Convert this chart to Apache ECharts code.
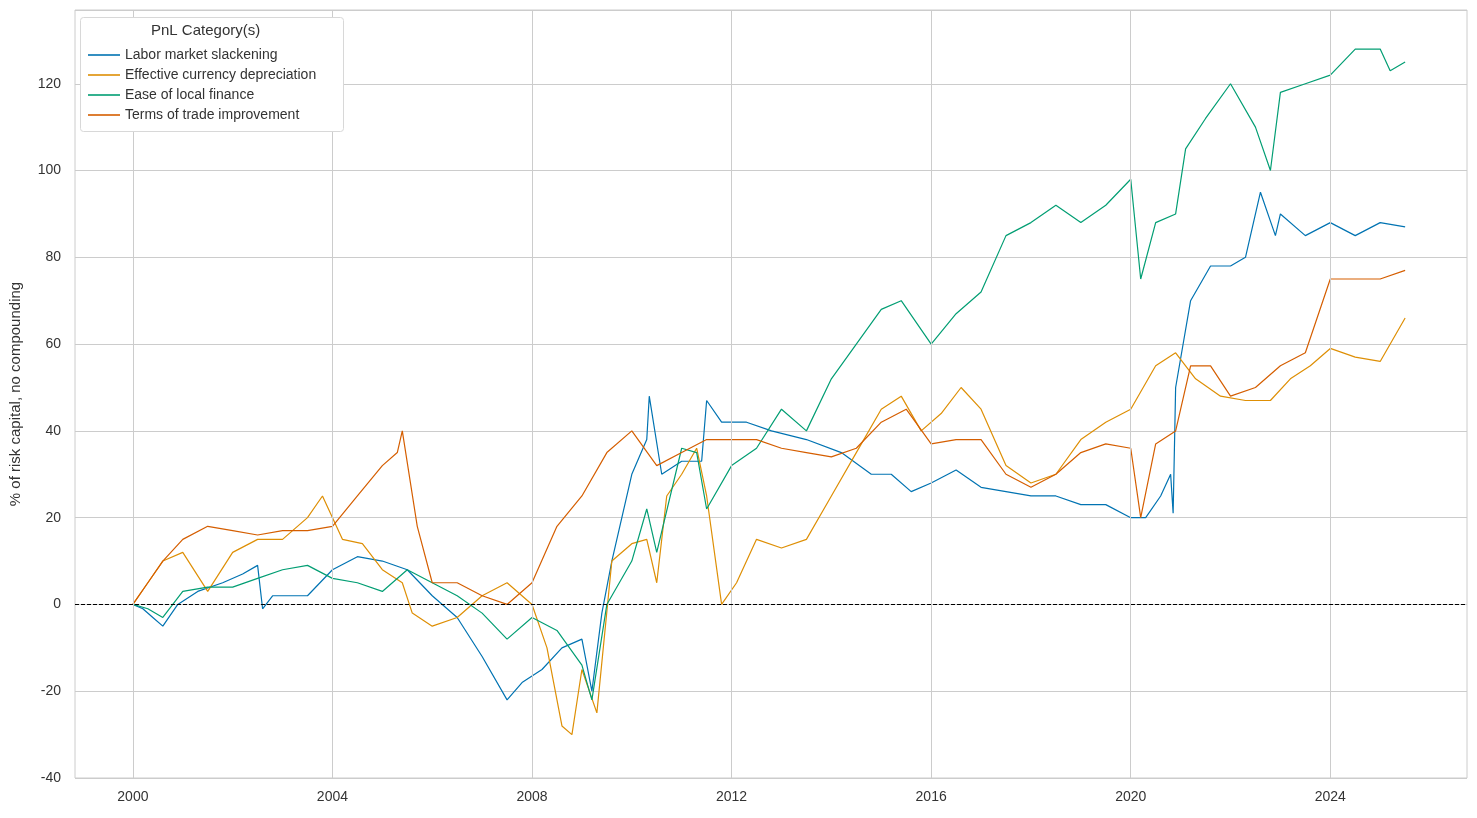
<!DOCTYPE html>
<html>
<head>
<meta charset="utf-8">
<script src="https://cdn.jsdelivr.net/npm/echarts@6/dist/echarts.min.js"></script>
<style>html,body{margin:0;background:#fff}#chart{width:1477px;height:818px}</style>
</head>
<body>
<div id="chart"></div>
<script>
const xTicks = [2000, 2004, 2008, 2012, 2016, 2020, 2024];

const seriesNames = ['Labor market slackening', 'Effective currency depreciation', 'Ease of local finance', 'Terms of trade improvement'];
const seriesColors = ['#0173B2', '#DE8F05', '#029E73', '#D55E00'];

const labor = [[2000.0,0],[2000.2,-1],[2000.4,-3],[2000.6,-5],[2000.9,0],[2001.3,3],[2001.8,5],[2002.2,7],[2002.5,9],[2002.6,-1],[2002.8,2],[2003.5,2],[2004.0,8],[2004.5,11],[2005.0,10],[2005.5,8],[2006.0,2],[2006.5,-3],[2007.0,-12],[2007.5,-22],[2007.8,-18],[2008.2,-15],[2008.6,-10],[2009.0,-8],[2009.2,-20],[2009.4,-2],[2009.6,10],[2010.0,30],[2010.3,38],[2010.35,48],[2010.6,30],[2011.0,33],[2011.4,33],[2011.5,47],[2011.8,42],[2012.3,42],[2012.8,40],[2013.5,38],[2014.2,35],[2014.8,30],[2015.2,30],[2015.6,26],[2016.0,28],[2016.5,31],[2017.0,27],[2017.5,26],[2018.0,25],[2018.5,25],[2019.0,23],[2019.5,23],[2020.0,20],[2020.3,20],[2020.6,25],[2020.8,30],[2020.85,21],[2020.9,50],[2021.2,70],[2021.6,78],[2022.0,78],[2022.3,80],[2022.6,95],[2022.9,85],[2023.0,90],[2023.5,85],[2024.0,88],[2024.5,85],[2025.0,88],[2025.5,87]];
const currency = [[2000.0,0],[2000.3,5],[2000.6,10],[2001.0,12],[2001.5,3],[2002.0,12],[2002.5,15],[2003.0,15],[2003.5,20],[2003.8,25],[2004.2,15],[2004.6,14],[2005.0,8],[2005.4,5],[2005.6,-2],[2006.0,-5],[2006.5,-3],[2007.0,2],[2007.5,5],[2008.0,0],[2008.3,-10],[2008.6,-28],[2008.8,-30],[2009.0,-15],[2009.3,-25],[2009.6,10],[2010.0,14],[2010.3,15],[2010.5,5],[2010.7,25],[2011.0,30],[2011.3,36],[2011.5,25],[2011.8,0],[2012.1,5],[2012.5,15],[2013.0,13],[2013.5,15],[2014.0,25],[2014.5,35],[2015.0,45],[2015.4,48],[2015.8,40],[2016.2,44],[2016.6,50],[2017.0,45],[2017.5,32],[2018.0,28],[2018.5,30],[2019.0,38],[2019.5,42],[2020.0,45],[2020.5,55],[2020.9,58],[2021.3,52],[2021.8,48],[2022.3,47],[2022.8,47],[2023.2,52],[2023.6,55],[2024.0,59],[2024.5,57],[2025.0,56],[2025.5,66]];
const finance = [[2000.0,0],[2000.3,-1],[2000.6,-3],[2001.0,3],[2001.5,4],[2002.0,4],[2002.5,6],[2003.0,8],[2003.5,9],[2004.0,6],[2004.5,5],[2005.0,3],[2005.5,8],[2006.0,5],[2006.5,2],[2007.0,-2],[2007.5,-8],[2008.0,-3],[2008.5,-6],[2009.0,-14],[2009.2,-22],[2009.5,0],[2010.0,10],[2010.3,22],[2010.5,12],[2011.0,36],[2011.3,35],[2011.5,22],[2012.0,32],[2012.5,36],[2013.0,45],[2013.5,40],[2014.0,52],[2014.5,60],[2015.0,68],[2015.4,70],[2016.0,60],[2016.5,67],[2017.0,72],[2017.5,85],[2018.0,88],[2018.5,92],[2019.0,88],[2019.5,92],[2020.0,98],[2020.2,75],[2020.5,88],[2020.9,90],[2021.1,105],[2021.5,112],[2022.0,120],[2022.5,110],[2022.8,100],[2023.0,118],[2023.5,120],[2024.0,122],[2024.5,128],[2025.0,128],[2025.2,123],[2025.5,125]];
const terms = [[2000.0,0],[2000.3,5],[2000.6,10],[2001.0,15],[2001.5,18],[2002.0,17],[2002.5,16],[2003.0,17],[2003.5,17],[2004.0,18],[2004.5,25],[2005.0,32],[2005.3,35],[2005.4,40],[2005.7,18],[2006.0,5],[2006.5,5],[2007.0,2],[2007.5,0],[2008.0,5],[2008.5,18],[2009.0,25],[2009.5,35],[2010.0,40],[2010.5,32],[2011.0,35],[2011.5,38],[2012.0,38],[2012.5,38],[2013.0,36],[2013.5,35],[2014.0,34],[2014.5,36],[2015.0,42],[2015.5,45],[2016.0,37],[2016.5,38],[2017.0,38],[2017.5,30],[2018.0,27],[2018.5,30],[2019.0,35],[2019.5,37],[2020.0,36],[2020.2,20],[2020.5,37],[2020.9,40],[2021.2,55],[2021.6,55],[2022.0,48],[2022.5,50],[2023.0,55],[2023.5,58],[2024.0,75],[2024.5,75],[2025.0,75],[2025.5,77]];

const allData = [labor, currency, finance, terms];

const chart = echarts.init(document.getElementById('chart'));
const font = 'Liberation Sans';

const series = allData.map((d, i) => ({
  name: seriesNames[i],
  type: 'line',
  data: d,
  showSymbol: false,
  color: seriesColors[i],
  lineStyle: { width: 1.2, color: seriesColors[i] },
  z: 3,
}));

// vertical grid lines and zero line
series.push({
  type: 'line', data: [], silent: true, z: 1,
  markLine: {
    symbol: 'none', silent: true, label: { show: false },
    lineStyle: { color: '#cccccc', type: 'solid', width: 1 },
    data: xTicks.map(x => ({ xAxis: x })),
  },
});
series.push({
  type: 'line', data: [], silent: true, z: 4,
  markLine: {
    symbol: 'none', silent: true, label: { show: false },
    lineStyle: { color: '#000', type: [4, 2], width: 1 },
    data: [{ yAxis: 0 }],
  },
});

chart.setOption({
  backgroundColor: '#fff',
  animation: false,
  textStyle: { fontFamily: font },
  grid: { left: 73, right: 10, top: 10, bottom: 40, show: true, borderColor: '#cccccc', borderWidth: 1 },
  xAxis: {
    type: 'value', min: 1998.84, max: 2026.74,
    axisLine: { show: false },
    axisTick: { show: false },
    splitLine: { show: false },
    axisLabel: { customValues: xTicks, color: '#333', fontSize: 14, margin: 12, formatter: v => String(Math.round(v)) },
  },
  yAxis: {
    type: 'value', min: -40, max: 137, interval: 20,
    name: '% of risk capital, no compounding',
    nameLocation: 'middle', nameGap: 52,
    nameTextStyle: { color: '#333', fontSize: 15 },
    axisLine: { show: false },
    axisTick: { show: false },
    splitLine: { lineStyle: { color: '#cccccc' } },
    axisLabel: { color: '#333', fontSize: 14, margin: 14, showMaxLabel: false },
  },
  graphic: [
    { type: 'rect', left: 80, top: 17, shape: { width: 263, height: 114, r: 3 }, style: { fill: '#fff', stroke: '#d8d8d8' }, z: 10 },
    { type: 'text', left: 151, top: 23, style: { text: 'PnL Category(s)', fill: '#333', font: '15px ' + font }, z: 11 },
  ],
  legend: {
    data: seriesNames,
    orient: 'vertical', left: 83, top: 43,
    itemGap: 6, itemWidth: 32, itemHeight: 16,
    icon: 'path://M0,0 L30,0 L30,1.5 L0,1.5 Z',
    textStyle: { color: '#333', fontSize: 14, fontFamily: font },
    z: 12,
  },
  series,
});
</script>
</body>
</html>
